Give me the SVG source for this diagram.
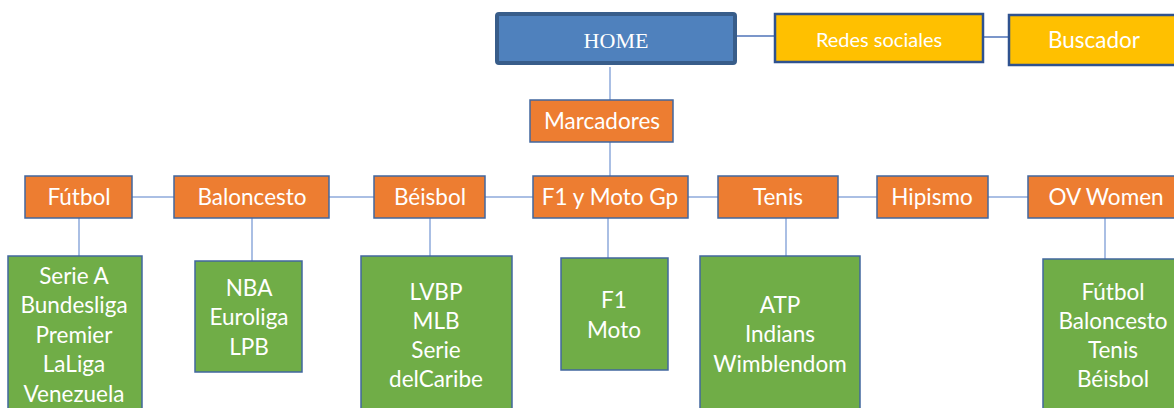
<svg xmlns="http://www.w3.org/2000/svg" width="1174" height="408" viewBox="0 0 1174 408">
<style>
.c{stroke:#8eaadb;stroke-width:1.5;fill:none}
.o{fill:#ed7d31;stroke:#41679f;stroke-width:1.5}
.g{fill:#70ad47;stroke:#41679f;stroke-width:1.5}
.y{fill:#ffc000;stroke:#2f528f;stroke-width:2.5}
.t{font-family:Lato,"Liberation Sans",sans-serif;font-size:22.5px;fill:#fff;text-anchor:middle}
</style>
<rect width="1174" height="408" fill="#fff"/>
<g id="connectors">
<line class="c" x1="737" y1="36" x2="775" y2="36" style="stroke:#4f73b8"/>
<line class="c" x1="983" y1="37" x2="1008" y2="37" style="stroke:#4f73b8"/>
<line class="c" x1="610" y1="67" x2="610" y2="100"/>
<line class="c" x1="610" y1="142" x2="610" y2="176"/>
<line class="c" x1="132" y1="197" x2="174" y2="197"/>
<line class="c" x1="329" y1="197" x2="374" y2="197"/>
<line class="c" x1="485" y1="197" x2="533" y2="197"/>
<line class="c" x1="688" y1="197" x2="718" y2="197"/>
<line class="c" x1="838" y1="197" x2="877" y2="197"/>
<line class="c" x1="988" y1="197" x2="1028" y2="197"/>
<line class="c" x1="79" y1="218" x2="79" y2="256"/>
<line class="c" x1="252" y1="215" x2="252" y2="261"/>
<line class="c" x1="430" y1="215" x2="430" y2="256"/>
<line class="c" x1="608" y1="218" x2="608" y2="258"/>
<line class="c" x1="786" y1="214" x2="786" y2="256"/>
<line class="c" x1="1105" y1="218" x2="1105" y2="259"/>
</g>
<g id="home">
<rect x="497" y="14" width="238" height="49" rx="2" fill="#4f81bd" stroke="#385d8a" stroke-width="4"/>
<text x="616" y="48" style="font-family:'Liberation Serif',serif;font-size:22px;fill:#fff;text-anchor:middle">HOME</text>
</g>
<g id="redes"><rect class="y" x="775" y="14" width="208" height="48"/><text class="t" x="879" y="47" style="font-size:20px">Redes sociales</text></g>
<g id="buscador"><rect class="y" x="1009" y="15" width="170" height="50"/><text class="t" x="1094" y="48">Buscador</text></g>
<g id="marcadores"><rect class="o" x="530" y="100" width="143" height="42"/><text class="t" x="602" y="129">Marcadores</text></g>
<g id="futbol"><rect class="o" x="25" y="176" width="107" height="42"/><text class="t" x="79" y="205">Fútbol</text></g>
<g id="baloncesto"><rect class="o" x="174" y="176" width="155" height="42"/><text class="t" x="252" y="205">Baloncesto</text></g>
<g id="beisbol"><rect class="o" x="374" y="176" width="111" height="42"/><text class="t" x="430" y="205">Béisbol</text></g>
<g id="f1"><rect class="o" x="533" y="176" width="155" height="42"/><text class="t" x="610" y="205">F1 y Moto Gp</text></g>
<g id="tenis"><rect class="o" x="718" y="176" width="120" height="42"/><text class="t" x="778" y="205">Tenis</text></g>
<g id="hipismo"><rect class="o" x="877" y="176" width="111" height="42"/><text class="t" x="932" y="205">Hipismo</text></g>
<g id="ovwomen"><rect class="o" x="1028" y="176" width="150" height="42"/><text class="t" x="1106" y="205">OV Women</text></g>
<g id="futbol-list"><rect class="g" x="8" y="256" width="134" height="160"/>
<text class="t"><tspan x="74" y="284">Serie A</tspan><tspan x="74" y="313">Bundesliga</tspan><tspan x="74" y="343">Premier</tspan><tspan x="74" y="372">LaLiga</tspan><tspan x="74" y="402">Venezuela</tspan></text></g>
<g id="baloncesto-list"><rect class="g" x="195" y="261" width="107" height="111"/>
<text class="t"><tspan x="249" y="296">NBA</tspan><tspan x="249" y="325">Euroliga</tspan><tspan x="249" y="355">LPB</tspan></text></g>
<g id="beisbol-list"><rect class="g" x="361" y="256" width="151" height="160"/>
<text class="t"><tspan x="436" y="300">LVBP</tspan><tspan x="436" y="329">MLB</tspan><tspan x="436" y="358">Serie</tspan><tspan x="436" y="387">delCaribe</tspan></text></g>
<g id="f1-list"><rect class="g" x="561" y="258" width="107" height="112"/>
<text class="t"><tspan x="614" y="308">F1</tspan><tspan x="614" y="338">Moto</tspan></text></g>
<g id="tenis-list"><rect class="g" x="700" y="256" width="160" height="160"/>
<text class="t"><tspan x="780" y="313">ATP</tspan><tspan x="780" y="342">Indians</tspan><tspan x="780" y="372">Wimblendom</tspan></text></g>
<g id="ovwomen-list"><rect class="g" x="1043" y="259" width="140" height="160"/>
<text class="t"><tspan x="1113" y="300">Fútbol</tspan><tspan x="1113" y="329">Baloncesto</tspan><tspan x="1113" y="358">Tenis</tspan><tspan x="1113" y="387">Béisbol</tspan></text></g>
</svg>
